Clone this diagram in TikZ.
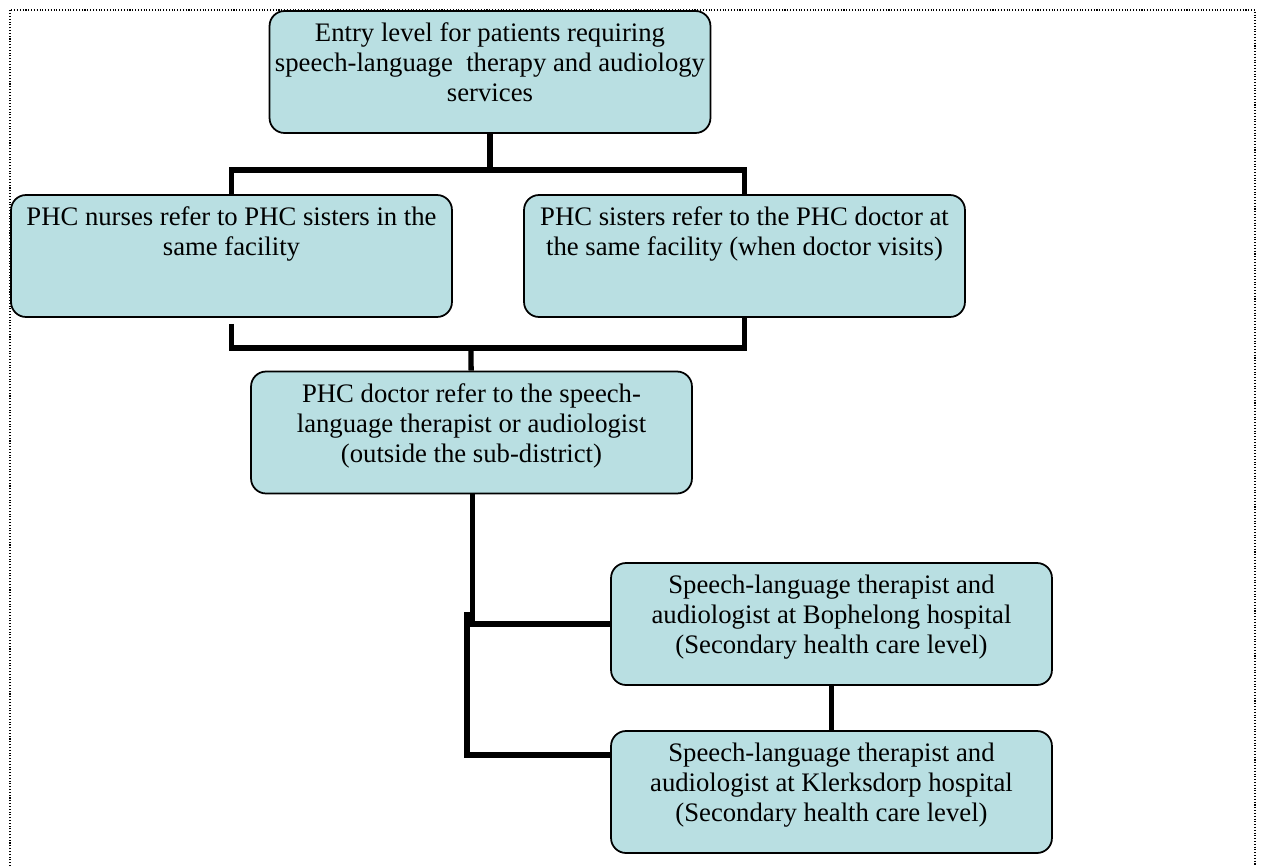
\documentclass[tikz,border=0pt]{standalone}
\usepackage{fontspec}
\setmainfont{Liberation Serif}
\usepackage{tikz}

\definecolor{boxblue}{RGB}{185,223,226}
\newcommand{\toppad}{\\[-6pt]\mbox{}}

\begin{document}
\begin{tikzpicture}[x=0.02cm, y=-0.02cm,
    level/.style={draw=black, line width=1pt, fill=boxblue, rounded corners=0.3cm,
      minimum width=8.82cm, minimum height=2.44cm, align=center, inner sep=2pt,
      font=\fontsize{15.2}{17}\selectfont},
    link/.style={line width=3pt},
    heavylink/.style={line width=3.6pt}]

      \useasboundingbox (0,0) rectangle (1265,866);
      \draw[densely dotted, line width=0.6pt] (10,866) -- (10,10) -- (1255,10) -- (1255,866);

      \node[level] (entry) at (490,72) {Entry level for patients requiring\\speech-language\ \ therapy and audiology\\services\toppad};
      \node[level] (nurses) at (231.5,256) {PHC nurses refer to PHC sisters in the\\same facility\\\mbox{}\toppad};
      \node[level] (sisters) at (744.5,256) {PHC sisters refer to the PHC doctor at\\the same facility (when doctor visits)\\\mbox{}\toppad};
      \node[level] (doctor) at (471.5,432.5) {PHC doctor refer to the speech-\\language therapist or audiologist\\(outside the sub-district)\toppad};
      \node[level] (bophelong) at (831.5,624) {Speech-language therapist and\\audiologist at Bophelong hospital\\(Secondary health care level)\toppad};
      \node[level] (klerksdorp) at (831.5,792) {Speech-language therapist and\\audiologist at Klerksdorp hospital\\(Secondary health care level)\toppad};

      \coordinate (split) at (490,170);
      \coordinate (merge) at (471,348);
      \coordinate (jog) at (467,612);

      \draw[link] (entry) -- (split);
      \draw[link] (nurses.north) |- (split) -| (sisters.north);

      \draw[link] ([yshift=-0.12cm]nurses.south) |- (merge) -| (sisters.south);
      \draw[link] (merge) -- (doctor);

      \draw[link] ([xshift=0.02cm]doctor.south) |- (bophelong.west);
      \draw[heavylink] (jog) |- ([yshift=0.74cm]klerksdorp.west);
      \draw[link] (bophelong) -- (klerksdorp);
\end{tikzpicture}
\end{document}
